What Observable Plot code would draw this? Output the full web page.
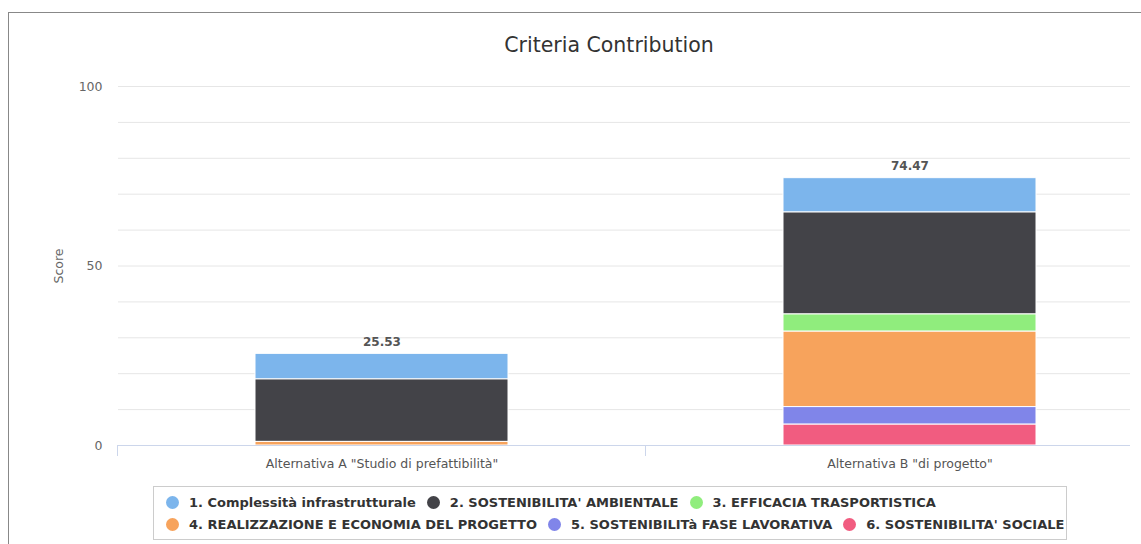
<!DOCTYPE html>
<html>
<head>
<meta charset="utf-8">
<script src="https://cdn.jsdelivr.net/npm/d3@7"></script>
<script src="https://cdn.jsdelivr.net/npm/@observablehq/plot@0.6"></script>
<style>
  html, body { margin: 0; padding: 0; background: #fff; width: 1141px; height: 544px; overflow: hidden; position: relative; font-family: "DejaVu Sans", sans-serif; }
  #frame { position: absolute; left: 8px; top: 12px; width: 1300px; height: 600px; border: 1px solid #888; box-sizing: border-box; }
  #title { position: absolute; left: 0; width: 1218px; top: 32px; text-align: center; font-size: 20.5px; line-height: 26px; color: #333; }
  #chart { position: absolute; left: 0; top: 0; }
  #legend { position: absolute; left: 153px; top: 486px; border: 1px solid #ccc; padding: 4px 2px 4px 12px; box-sizing: border-box; display: inline-block; }
  .row { display: flex; height: 22px; }
  .item { display: flex; align-items: center; font-weight: bold; font-size: 13px; color: #333; margin-right: 11px; white-space: nowrap; }
  .item:last-child { margin-right: 0; }
  .dot { width: 13px; height: 13px; border-radius: 50%; margin-right: 10px; }
</style>
</head>
<body>
<div id="frame"></div>
<div id="title">Criteria Contribution</div>
<div id="chart"></div>
<div id="legend"></div>
<script>
const alternatives = ["Alternativa A \"Studio di prefattibilità\"", "Alternativa B \"di progetto\""];
const series = [
  "1. Complessità infrastrutturale",
  "2. SOSTENIBILITA' AMBIENTALE",
  "3. EFFICACIA TRASPORTISTICA",
  "4. REALIZZAZIONE E ECONOMIA DEL PROGETTO",
  "5. SOSTENIBILITà FASE LAVORATIVA",
  "6. SOSTENIBILITA' SOCIALE"
];
const colors = ["#7cb5ec", "#434348", "#90ed7d", "#f7a35c", "#8085e9", "#f15c80"];
// values per series: [Alternativa A, Alternativa B]
const valuesA = [7.13, 17.40, 0, 1.00, 0, 0];
const valuesB = [9.57, 28.40, 4.80, 21.00, 4.90, 5.80];
const yTicks = [0, 50, 100];
const gridTicks = [10, 20, 30, 40, 50, 60, 70, 80, 90, 100];

const data = [];
series.forEach((s, i) => {
  data.push({alt: alternatives[0], series: s, value: valuesA[i]});
  data.push({alt: alternatives[1], series: s, value: valuesB[i]});
});
const totals = alternatives.map((a, j) => ({alt: a, total: d3.sum(j === 0 ? valuesA : valuesB)}));
const stackOrder = series.slice().reverse();

// tick marks between categories (Highcharts "between" placement)
function categoryEdgeTicks(index, scales, values, dimensions) {
  const x = scales.x;
  const step = x.step(), bw = x.bandwidth();
  const edges = alternatives.map(a => x(a) - (step - bw) / 2);
  edges.push(x(alternatives[alternatives.length - 1]) + bw + (step - bw) / 2);
  const y0 = dimensions.height - dimensions.marginBottom;
  const g = d3.create("svg:g");
  g.selectAll("line").data(edges).join("line")
    .attr("x1", d => d).attr("x2", d => d)
    .attr("y1", y0).attr("y2", y0 + 11)
    .attr("stroke", "#ccd6eb");
  return g.node();
}

const plot = Plot.plot({
  width: 1141,
  height: 480,
  marginLeft: 118,
  marginRight: 11,
  marginTop: 86,
  marginBottom: 35,
  style: {fontFamily: "DejaVu Sans, sans-serif", overflow: "visible"},
  x: {type: "band", domain: alternatives, range: [118, 1174], paddingInner: 0.52, paddingOuter: 0.26},
  y: {domain: [0, 100]},
  color: {domain: series, range: colors},
  marks: [
    Plot.ruleY(gridTicks, {stroke: "#e6e6e6", strokeWidth: 1}),
    Plot.axisY(yTicks, {tickSize: 0, tickPadding: 16, fill: "#666", fontSize: 12.5, label: "Score", labelAnchor: "center", labelArrow: "none", labelOffset: 64}),
    Plot.barY(data, Plot.stackY({x: "alt", y: "value", fill: "series", order: stackOrder, stroke: "white", strokeWidth: 1})),
    Plot.ruleY([0], {stroke: "#ccd6eb", strokeWidth: 1}),
    categoryEdgeTicks,
    Plot.axisX({tickSize: 0, tickPadding: 14, fill: "#555", fontSize: 12.5, label: null}),
    Plot.text(totals, {x: "alt", y: "total", text: d => d.total.toFixed(2), dy: -12, fontWeight: "bold", fontSize: 12, fill: "#555"})
  ]
});
document.getElementById("chart").appendChild(plot);

const legend = document.getElementById("legend");
[series.slice(0, 3), series.slice(3)].forEach((rowItems, r) => {
  const row = document.createElement("div");
  row.className = "row";
  rowItems.forEach((s, k) => {
    const i = r * 3 + k;
    const item = document.createElement("div");
    item.className = "item";
    item.innerHTML = `<span class="dot" style="background:${colors[i]}"></span><span></span>`;
    item.lastChild.textContent = s;
    row.appendChild(item);
  });
  legend.appendChild(row);
});
</script>
</body>
</html>
